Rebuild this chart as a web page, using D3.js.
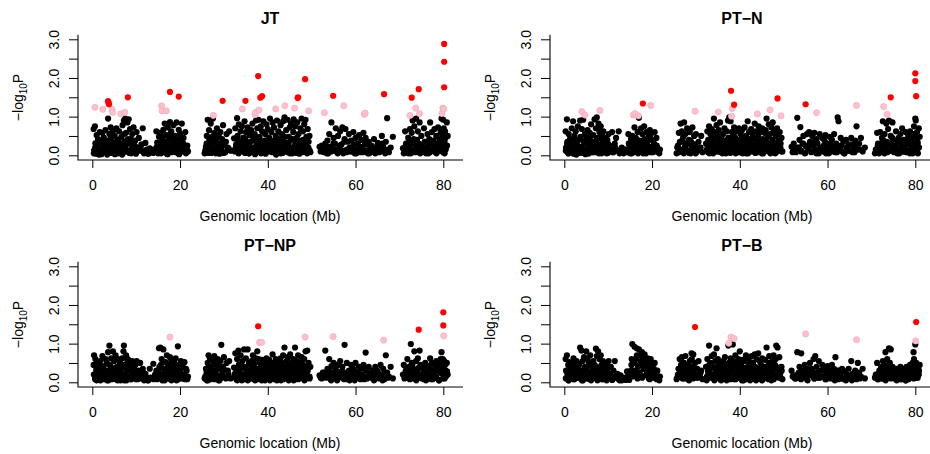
<!DOCTYPE html>
<html><head><meta charset="utf-8">
<script src="https://cdn.jsdelivr.net/npm/d3@7"></script>
<style>
body{margin:0;background:#fff}
svg{display:block}
text{font-family:"Liberation Sans",Arial,Helvetica,sans-serif}
</style>
</head><body>
<svg id="chart" width="930" height="454"></svg>
<script>
// shared marker positions (Mb), first marker set
const snpPos = [
0.3,0.4,0.6,0.7,0.9,1.0,1.2,1.3,1.5,1.7,
1.8,2.0,2.1,2.3,2.5,2.6,2.8,3.0,3.1,3.3,
3.4,3.6,3.7,3.9,4.0,4.2,4.3,4.5,4.7,4.8,
5.0,5.1,5.3,5.5,5.6,5.8,5.9,6.1,6.3,6.4,
6.6,6.8,6.9,7.1,7.2,7.4,7.5,7.7,7.8,8.0,
8.1,8.3,8.5,8.6,8.8,8.9,9.1,9.3,9.4,9.6,
9.8,9.9,10.1,10.3,10.6,10.9,11.2,11.5,11.8,12.1,
12.4,12.8,13.1,13.5,13.9,14.3,14.6,14.8,15.0,15.2,
15.3,15.5,15.7,15.8,16.0,16.2,16.3,16.5,16.7,16.8,
17.0,17.2,17.3,17.5,17.7,17.8,18.0,18.2,18.3,18.5,
18.7,18.8,19.0,19.2,19.3,19.5,19.7,19.8,20.0,20.2,
20.4,20.6,20.8,21.0,21.2,21.5,21.8,25.6,25.9,26.1,
26.3,26.5,26.6,26.8,27.0,27.1,27.3,27.5,27.6,27.8,
28.0,28.2,28.4,28.6,28.8,29.0,29.2,29.4,29.6,29.8,
30.0,30.3,30.6,30.9,31.2,31.5,32.3,32.5,32.6,32.8,
33.0,33.1,33.3,33.4,33.6,33.8,33.9,34.1,34.2,34.4,
34.6,34.7,34.9,35.0,35.2,35.4,35.5,35.7,35.8,36.0,
36.2,36.3,36.5,36.6,36.8,37.0,37.1,37.3,37.4,37.6,
37.8,37.9,38.1,38.2,38.4,38.6,38.7,38.9,39.0,39.2,
39.4,39.5,39.7,39.8,40.0,40.2,40.3,40.5,40.6,40.8,
41.0,41.1,41.3,41.4,41.6,41.8,41.9,42.1,42.2,42.4,
42.6,42.7,42.9,43.0,43.2,43.4,43.5,43.7,43.8,44.0,
44.2,44.3,44.5,44.6,44.8,45.0,45.1,45.3,45.4,45.6,
45.8,45.9,46.1,46.2,46.4,46.6,46.7,46.9,47.0,47.2,
47.4,47.5,47.7,47.8,48.0,48.2,48.3,48.5,48.6,48.8,
49.0,49.1,49.3,49.5,49.7,51.8,52.3,52.8,53.1,53.3,
53.6,53.8,54.0,54.3,54.5,54.8,55.0,55.3,55.5,55.8,
56.0,56.3,56.5,56.8,57.0,57.2,57.5,57.7,58.0,58.2,
58.5,58.8,59.0,59.3,59.5,59.8,60.0,60.3,60.5,60.8,
61.0,61.3,61.5,61.8,62.0,62.3,62.5,62.8,63.0,63.3,
63.6,63.9,64.2,64.5,64.8,65.1,65.4,65.7,66.0,66.3,
66.6,66.9,67.2,67.6,68.0,68.5,70.8,71.0,71.3,71.5,
71.8,72.0,72.2,72.4,72.6,72.8,73.0,73.2,73.4,73.6,
73.8,74.0,74.2,74.4,74.6,74.8,75.0,75.3,75.6,75.9,
76.2,76.4,76.6,76.8,77.0,77.2,77.4,77.6,77.8,78.0,
78.2,78.4,78.6,78.8,79.0,79.2,79.4,79.6,79.8,80.0,
79.7,79.9,80.1,80.2,80.3,80.4,80.5,80.6,80.8,81.0
];
// shared marker positions (Mb), second marker set
const snpPos2 = [
0.35,0.65,0.95,1.25,1.55,1.85,2.15,2.45,2.75,3.05,
3.35,3.65,3.95,4.25,4.55,4.85,5.15,5.45,5.75,6.05,
6.35,6.65,6.95,7.25,7.55,7.85,8.15,8.45,8.75,9.05,
9.35,9.65,9.95,10.4,11.0,11.6,12.6,13.3,14.0,14.7,
15.05,15.35,15.65,15.95,16.25,16.55,16.85,17.15,17.45,17.75,
18.05,18.35,18.65,18.95,19.25,19.55,19.85,20.15,20.45,20.75,
21.05,21.35,21.65,25.75,26.05,26.35,26.65,26.95,27.25,27.55,
27.85,28.15,28.45,28.75,29.05,29.35,29.65,29.95,30.45,31.05,
32.45,32.75,33.05,33.35,33.65,33.95,34.25,34.55,34.85,35.15,
35.45,35.75,36.05,36.35,36.65,36.95,37.25,37.55,37.85,38.15,
38.45,38.75,39.05,39.35,39.65,39.95,40.25,40.55,40.85,41.15,
41.45,41.75,42.05,42.35,42.65,42.95,43.25,43.55,43.85,44.15,
44.45,44.75,45.05,45.35,45.65,45.95,46.25,46.55,46.85,47.15,
47.45,47.75,48.05,48.35,48.65,48.95,49.25,49.55,52.05,52.55,
53.45,53.95,54.45,54.95,55.45,55.95,56.45,56.95,57.45,57.95,
58.65,59.15,59.65,60.15,60.65,61.15,61.65,62.15,62.65,63.15,
63.75,64.35,64.95,65.55,66.15,66.75,67.4,71.15,71.45,71.75,
72.05,72.35,72.65,72.95,73.25,73.55,73.85,74.15,74.45,74.75,
75.15,75.45,75.75,76.05,76.35,76.65,76.95,77.25,77.55,77.85,
78.15,78.45,78.75,79.05,79.35,79.65,79.95,80.25,80.55,80.85
];

// -log10 P per marker (first set), one array per trait
const jtLogP = [
.68,.12,.75,.31,.04,.52,.22,.41,.08,.6,
.15,.35,.03,.58,.27,.46,.09,.65,.19,.38,
.02,.95,.28,.55,.12,.72,.44,.06,.63,.33,
.18,.5,.07,.7,.25,.4,.05,.62,.3,.14,
.47,.02,.78,.21,.9,.36,.95,.58,.1,.85,
.3,.93,.12,.68,.42,.05,.55,.24,.72,.16,
.38,.08,.6,.2,.45,.12,.28,.7,.05,.32,
.15,.04,.18,.09,.06,.12,.62,.33,.05,.48,
.18,.58,.27,.07,.4,.66,.12,.82,.3,.52,
.04,.72,.22,.45,.86,.1,.62,.35,.15,.78,
.28,.5,.08,.85,.4,.19,.66,.03,.56,.3,
.82,.12,.45,.22,.6,.16,.1,.05,.22,.5,
.92,.13,.65,.3,.82,.06,.48,.95,.2,.58,
.35,.1,.7,.25,.52,.04,.6,.18,.42,.78,
.3,.08,.55,.2,.62,.12,.44,.15,.7,.28,
.96,.5,.06,.8,.35,.62,.12,.75,.25,.45,
.08,.88,.4,.6,.15,.72,.3,.05,.52,.22,
.65,.1,.82,.38,.2,.55,.03,.9,.42,.7,
.15,.92,.48,.28,.75,.06,.62,.35,.88,.18,
.55,.04,.8,.3,.68,.12,.45,.95,.22,.6,
.08,.85,.38,.72,.18,.5,.02,.9,.28,.62,
.42,.12,.78,.25,.55,.06,.88,.35,.98,.15,
.65,.3,.92,.08,.48,.72,.18,.82,.4,.05,
.6,.93,.22,.75,.12,.45,.85,.3,.55,.04,
.7,.2,.95,.38,.62,.1,.8,.28,.92,.48,
.15,.68,.35,.5,.08,.22,.25,.08,.3,.15,
.38,.05,.55,.2,.85,.12,.45,.3,.7,.08,
.5,.18,.62,.28,.72,.05,.42,.68,.15,.35,
.55,.1,.38,.22,.6,.05,.45,.15,.3,.52,
.08,.4,.2,.58,.12,.45,.28,.05,.35,.18,
.25,.1,.42,.05,.2,.32,.08,.15,.5,.22,
.12,.35,.96,.08,.2,.48,.18,.05,.62,.3,
.1,.45,.22,.68,.05,.58,.9,.3,.75,.15,
.95,.4,.62,.08,.85,.25,.5,.12,.7,.35,
.2,.55,.05,.42,.85,.3,.6,.12,.38,.68,
.08,.5,.25,.72,.15,.4,.6,.95,.3,.92,
.55,.12,.7,.35,.05,.62,.45,.2,.85,.5
];
const ptnLogP = [
.62,.2,.93,.35,.05,.55,.15,.42,.08,.7,
.28,.88,.04,.5,.18,.62,.32,.1,.75,.4,
.06,.9,.48,.22,.68,.12,.92,.35,.55,.03,
.45,.15,.65,.28,.05,.58,.38,.8,.1,.25,
.52,.08,.93,.3,.7,.98,.42,.15,.82,.6,
.22,.75,.05,.5,.35,.62,.12,.45,.28,.18,
.4,.06,.55,.25,.15,.6,.08,.3,.45,.12,
.62,.1,.2,.05,.15,.08,.55,.3,.05,.42,
.2,.5,.35,.08,.72,.15,.45,.25,.6,.05,
.97,.38,.12,.7,.28,.55,.05,.75,.42,.18,
.6,.3,.1,.5,.22,.65,.08,.4,.58,.15,
.3,.6,.12,.45,.2,.08,.15,.05,.25,.58,
.15,.82,.35,.62,.08,.48,.85,.22,.55,.3,
.7,.12,.4,.6,.05,.32,.72,.18,.5,.25,
.55,.1,.35,.2,.5,.08,.3,.15,.62,.4,
.75,.05,.55,.3,.68,.15,.45,.95,.22,.6,
.35,.78,.1,.5,.65,.25,.85,.08,.42,.3,
.55,.15,.7,.38,.05,.62,.25,.9,.45,.98,
.2,.88,.35,.6,.1,.5,.72,.28,.45,.15,
.62,.3,.08,.7,.4,.55,.18,.65,.05,.45,
.25,.72,.12,.5,.38,.88,.05,.6,.3,.42,
.68,.15,.55,.28,.45,.82,.1,.62,.35,.08,
.5,.75,.2,.6,.32,.05,.7,.42,.15,.58,
.3,.65,.95,.12,.48,.8,.22,.55,.05,.72,
.4,.85,.15,.62,.28,.5,.08,.7,.35,.55,
.18,.6,.3,.45,.1,.22,.3,.08,.97,.2,
.4,.73,.12,.3,.5,.05,.25,.55,.18,.6,
.35,.08,.5,.25,.58,.12,.42,.3,.05,.55,
.2,.45,.1,.38,.52,.15,.3,.05,.48,.25,
.4,.12,.55,.08,.3,.98,.88,.2,.45,.1,
.35,.05,.4,.18,.28,.12,.45,.08,.22,.38,
.75,.15,.3,.45,.1,.2,.05,.15,.58,.3,
.1,.6,.25,.45,.88,.15,.55,.35,.82,.08,
.68,.9,.3,.5,.12,.85,.4,.2,.62,.05,
.45,.15,.55,.3,.7,.1,.4,.25,.6,.08,
.35,.5,.12,.62,.25,.45,.05,.55,.3,.95,
.75,.2,.9,.45,.1,.6,.35,.05,.7,.48
];
const ptnpLogP = [
.45,.7,.15,.6,.3,.05,.52,.22,.4,.1,
.55,.2,.35,.68,.08,.42,.25,.6,.12,.5,
.3,.78,.05,.95,.45,.18,.62,.35,.8,.1,
.55,.25,.7,.08,.4,.6,.15,.3,.5,.05,
.35,.62,.12,.8,.95,.45,.22,.7,.05,.55,
.6,.15,.5,.3,.42,.08,.55,.25,.35,.12,
.45,.2,.55,.08,.3,.5,.15,.35,.05,.22,
.12,.05,.35,.1,.48,.2,.3,.08,.15,.88,
.4,.9,.2,.6,.12,.85,.35,.05,.52,.25,
.7,.15,.45,.3,.65,.08,.55,.2,.4,.12,
.5,.28,.62,.05,.35,.93,.18,.45,.3,.55,
.1,.4,.2,.52,.08,.3,.15,.1,.35,.05,
.5,.7,.2,.62,.08,.4,.3,.55,.12,.68,
.25,.45,.1,.6,.35,.05,.55,.97,.2,.4,
.65,.15,.5,.3,.55,.1,.38,.22,.75,.08,
.6,.25,.82,.45,.12,.7,.35,.05,.55,.2,
.85,.4,.15,.62,.3,.85,.08,.5,.25,.45,
.1,.55,.3,.7,.18,.48,.05,.62,.35,.8,
.25,.6,.12,.5,.38,.05,.58,.22,.45,.15,
.55,.3,.62,.1,.42,.2,.58,.05,.35,.5,
.15,.72,.28,.45,.08,.6,.35,.2,.55,.1,
.42,.25,.62,.05,.5,.3,.7,.18,.9,.4,
.12,.55,.3,.65,.08,.45,.72,.2,.5,.35,
.6,.05,.4,.9,.25,.55,.15,.7,.38,.1,
.5,.28,.65,.12,.45,.35,.6,.08,.8,.22,
.82,.3,.5,.15,.4,.18,.1,.25,.82,.12,
.35,.2,.6,.08,.42,.25,.5,.15,.3,.05,
.45,.18,.55,.28,.4,.1,.97,.22,.5,.08,
.3,.12,.45,.2,.35,.05,.5,.25,.15,.4,
.1,.35,.2,.45,.08,.77,.3,.15,.4,.22,
.12,.3,.05,.4,.18,.25,.1,.45,.2,.35,
.08,.7,.25,.15,.4,.1,.2,.45,.12,.3,
.6,.15,.4,.25,.99,.5,.1,.35,.8,.2,
.55,.3,.62,.12,.82,.45,.2,.38,.08,.5,
.25,.42,.1,.35,.62,.18,.5,.08,.3,.45,
.15,.55,.3,.48,.05,.35,.6,.78,.22,.5,
.4,.6,.25,.55,.1,.45,.3,.15,.5,.2
];
const ptbLogP = [
.6,.3,.7,.15,.45,.05,.52,.25,.38,.1,
.5,.2,.62,.08,.4,.28,.55,.12,.35,.48,
.18,.9,.3,.82,.05,.55,.22,.65,.4,.12,
.8,.35,.6,.1,.48,.25,.7,.05,.42,.2,
.55,.15,.45,.3,.87,.68,.1,.8,.38,.6,
.22,.7,.45,.08,.55,.3,.12,.42,.25,.5,
.35,.1,.55,.2,.4,.06,.3,.55,.12,.22,
.08,.18,.05,.12,.1,.28,.2,.06,.15,.3,
.45,.99,.3,.55,.92,.2,.6,.88,.1,.4,
.85,.25,.7,.5,.78,.15,.62,.35,.72,.45,
.55,.2,.62,.3,.4,.08,.6,.25,.45,.15,
.35,.5,.12,.25,.3,.1,.15,.08,.2,.35,
.6,.15,.45,.65,.25,.5,.1,.35,.68,.2,
.42,.08,.3,.55,.18,.75,.4,.72,.25,.5,
.12,.35,.55,.2,.3,.08,.4,.15,.6,.25,
.95,.3,.5,.12,.68,.4,.2,.72,.05,.55,
.35,.88,.15,.6,.25,.45,.08,.5,.3,.2,
.55,.12,.4,.65,.25,.05,.48,.3,.95,.18,
.4,.62,.15,.3,.98,.55,.08,.45,.7,.2,
.5,.12,.6,.35,.8,.22,.45,.05,.58,.3,
.15,.55,.35,.7,.08,.62,.25,.45,.12,.52,
.3,.68,.1,.5,.25,.72,.4,.05,.6,.2,
.75,.35,.55,.15,.48,.25,.62,.08,.4,.3,
.58,.2,.9,.35,.12,.5,.68,.25,.45,.05,
.55,.3,.7,.15,.45,.6,.95,.2,.9,.38,
.65,.25,.12,.4,.08,.3,.18,.1,.78,.22,
.4,.12,.75,.3,.15,.45,.25,.08,.35,.2,
.5,.18,.3,.6,.1,.68,.4,.25,.55,.12,
.3,.45,.15,.38,.08,.25,.42,.12,.3,.2,
.45,.1,.35,.65,.2,.3,.08,.25,.15,.35,
.1,.28,.05,.2,.35,.12,.55,.22,.15,.3,
.08,.5,.25,.15,.35,.1,.12,.2,.5,.08,
.3,.15,.4,.1,.55,.25,.45,.78,.2,.6,
.35,.88,.5,.85,.15,.4,.25,.1,.35,.2,
.3,.12,.4,.08,.25,.35,.15,.3,.05,.4,
.2,.35,.1,.45,.25,.3,.5,.78,.15,.98,
.6,.45,.3,.5,.12,.4,.25,.35,.2,.45
];

// -log10 P per marker (second set)
const jtLogP2 = [
.05,.2,.1,.3,.02,.15,.4,.08,.25,.12,
.35,.06,.18,.45,.1,.28,.03,.2,.38,.08,
.15,.3,.05,.55,.22,.12,.42,.06,.32,.18,
.1,.25,.04,.15,.2,.1,.05,.1,.15,.22,
.1,.3,.05,.45,.2,.12,.35,.03,.25,.55,
.08,.2,.4,.12,.3,.05,.22,.45,.1,.3,
.15,.05,.25,.12,.3,.06,.4,.18,.1,.35,
.2,.05,.45,.15,.3,.1,.25,.06,.35,.18,
.1,.25,.4,.05,.2,.32,.12,.45,.06,.28,
.18,.05,.35,.12,.5,.2,.08,.3,.15,.42,
.05,.25,.12,.38,.08,.2,.45,.1,.3,.15,
.28,.06,.4,.15,.22,.05,.35,.12,.48,.2,
.1,.32,.05,.2,.42,.12,.28,.06,.36,.15,
.25,.08,.4,.15,.3,.05,.2,.12,.1,.18,
.05,.22,.1,.3,.15,.05,.25,.12,.35,.08,
.2,.1,.28,.05,.15,.22,.08,.3,.12,.05,
.18,.08,.25,.1,.3,.05,.15,.2,.1,.3,
.05,.2,.35,.12,.42,.08,.25,.15,.3,.05,
.22,.1,.35,.05,.18,.28,.08,.15,.3,.12,
.2,.05,.3,.12,.42,.18,.08,.35,.15,.25
];
const ptnLogP2 = [
.12,.3,.05,.22,.4,.08,.18,.35,.02,.25,
.1,.42,.2,.06,.3,.15,.38,.05,.22,.5,
.08,.35,.2,.12,.45,.05,.28,.15,.4,.1,
.2,.05,.3,.12,.08,.2,.05,.1,.15,.3,
.22,.05,.35,.12,.28,.4,.08,.2,.32,.1,
.15,.38,.05,.25,.12,.45,.2,.08,.3,.1,
.25,.12,.05,.2,.08,.35,.15,.4,.05,.25,
.12,.3,.06,.38,.2,.1,.28,.05,.15,.2,
.3,.08,.2,.42,.12,.05,.35,.18,.25,.1,
.4,.15,.05,.28,.2,.35,.1,.45,.06,.22,
.12,.3,.05,.4,.18,.25,.08,.35,.15,.2,
.05,.32,.15,.22,.42,.1,.2,.06,.3,.12,
.35,.1,.25,.05,.18,.4,.12,.3,.08,.22,
.15,.3,.05,.25,.12,.38,.2,.1,.08,.15,
.2,.1,.3,.06,.18,.25,.1,.35,.05,.15,
.12,.25,.05,.18,.3,.1,.22,.08,.15,.25,
.05,.2,.12,.28,.08,.3,.15,.1,.25,.05,
.3,.12,.4,.05,.22,.35,.1,.28,.15,.45,
.08,.25,.12,.35,.05,.2,.3,.1,.18,.4,
.1,.28,.05,.38,.15,.22,.5,.08,.3,.2
];
const ptnpLogP2 = [
.2,.08,.35,.12,.25,.05,.4,.18,.3,.1,
.05,.28,.15,.4,.08,.22,.35,.12,.05,.3,
.25,.1,.45,.05,.2,.32,.12,.38,.08,.22,
.15,.3,.08,.2,.1,.25,.05,.12,.08,.18,
.3,.12,.45,.05,.22,.35,.1,.28,.15,.4,
.05,.25,.12,.38,.2,.08,.3,.15,.42,.1,
.2,.35,.08,.15,.25,.05,.4,.12,.3,.2,
.08,.3,.18,.05,.42,.12,.25,.35,.1,.2,
.15,.35,.05,.28,.45,.12,.2,.08,.38,.25,
.05,.3,.18,.42,.1,.25,.35,.08,.2,.15,
.38,.12,.25,.05,.45,.18,.3,.1,.22,.4,
.1,.28,.05,.35,.2,.12,.42,.08,.3,.18,
.25,.05,.38,.15,.3,.1,.45,.2,.08,.32,
.12,.35,.2,.05,.28,.4,.15,.1,.12,.25,
.15,.3,.05,.22,.35,.1,.2,.28,.08,.25,
.05,.2,.3,.12,.25,.08,.18,.35,.1,.22,
.2,.08,.3,.15,.05,.25,.12,.1,.3,.15,
.35,.08,.25,.45,.12,.3,.05,.2,.38,.15,
.1,.3,.2,.05,.25,.15,.35,.08,.2,.12,
.3,.12,.4,.05,.25,.35,.1,.45,.18,.28
];
const ptbLogP2 = [
.1,.25,.05,.35,.15,.42,.08,.3,.2,.12,
.45,.15,.3,.05,.25,.38,.1,.2,.5,.08,
.3,.12,.42,.2,.05,.35,.15,.25,.08,.3,
.2,.05,.12,.22,.08,.15,.05,.1,.06,.12,
.25,.6,.15,.5,.3,.7,.2,.45,.55,.12,
.35,.6,.2,.5,.1,.4,.25,.3,.12,.2,
.08,.15,.05,.12,.35,.2,.4,.1,.5,.25,
.15,.45,.05,.3,.6,.1,.35,.2,.12,.25,
.05,.3,.45,.15,.2,.38,.08,.25,.4,.12,
.22,.05,.35,.15,.42,.1,.28,.5,.08,.3,
.15,.4,.08,.25,.35,.12,.45,.2,.05,.3,
.38,.1,.22,.05,.3,.45,.15,.28,.08,.2,
.12,.35,.05,.25,.4,.18,.3,.08,.45,.15,
.3,.08,.42,.2,.35,.12,.25,.3,.15,.1,
.25,.08,.3,.15,.05,.22,.35,.1,.2,.12,
.15,.3,.08,.2,.1,.25,.05,.18,.3,.1,
.08,.2,.12,.05,.25,.15,.1,.2,.08,.15,
.25,.1,.35,.15,.05,.3,.2,.45,.1,.28,
.12,.25,.05,.15,.3,.08,.2,.12,.25,.05,
.2,.08,.3,.15,.35,.1,.25,.4,.12,.3
];

// markers with -log10 P >= 1 (positions in Mb, values)
const jtHitPos  = [0.6,2.4,3.6,3.7,3.8,4.5,4.6,6.5,7.4,8.1,15.8,15.9,16.9,17.7,19.7,27.6,29.7,34.2,34.9,37.1,37.2,37.8,38.0,38.3,38.7,41.8,43.9,46.1,46.8,46.9,48.5,49.3,52.9,54.9,57.3,62.0,62.2,66.5,72.4,72.8,73.7,74.4,74.6,79.7,79.9,80.1,80.2,80.2,80.2];
const jtHitLogP = [1.24,1.19,1.40,1.36,1.32,1.19,1.11,1.07,1.11,1.50,1.28,1.15,1.15,1.64,1.52,1.03,1.41,1.20,1.41,1.05,1.11,2.05,1.17,1.49,1.53,1.20,1.28,1.22,1.48,1.50,1.97,1.15,1.10,1.54,1.28,1.06,1.09,1.58,1.03,1.49,1.22,1.71,1.08,1.08,1.22,1.20,1.76,2.42,2.88];
const ptnHitPos  = [4.0,4.7,8.1,15.7,16.1,16.9,17.9,19.7,29.8,35.1,38.0,38.1,38.3,38.7,44.0,46.9,48.6,49.4,55.0,57.5,66.6,72.8,73.6,74.4,80.0,80.0,80.2];
const ptnHitLogP = [1.13,1.04,1.16,1.04,1.08,1.02,1.34,1.29,1.14,1.12,1.67,1.01,1.21,1.31,1.07,1.17,1.47,1.02,1.32,1.10,1.29,1.26,1.06,1.50,2.12,1.92,1.53];
const ptnpHitPos  = [17.7,37.8,38.1,38.6,48.5,54.9,66.4,74.4,80.0,80.0,80.1];
const ptnpHitLogP = [1.17,1.45,1.03,1.03,1.17,1.18,1.09,1.36,1.81,1.47,1.20];
const ptbHitPos  = [29.8,37.5,38.0,38.7,55.0,66.6,80.2,80.1];
const ptbHitLogP = [1.43,1.01,1.17,1.13,1.25,1.10,1.56,1.07];

const titles = ["JT","PT\u2212N","PT\u2212NP","PT\u2212B"];
const xTicks = [0,20,40,60,80];
const yTicks = [0,0.5,1,1.5,2,2.5,3];
const yTickLabels = [0,1,2,3];
const pinkCut = 1;                      // P < 0.10
const redCut = -Math.log10(0.05);       // P < 0.05

const panels = [
  {title:titles[0], bg:jtLogP,   bg2:jtLogP2,   hitPos:jtHitPos,   hitLogP:jtHitLogP,   ox:0,   oy:0},
  {title:titles[1], bg:ptnLogP,  bg2:ptnLogP2,  hitPos:ptnHitPos,  hitLogP:ptnHitLogP,  ox:472, oy:0},
  {title:titles[2], bg:ptnpLogP, bg2:ptnpLogP2, hitPos:ptnpHitPos, hitLogP:ptnpHitLogP, ox:0,   oy:227},
  {title:titles[3], bg:ptbLogP,  bg2:ptbLogP2,  hitPos:ptbHitPos,  hitLogP:ptbHitLogP,  ox:472, oy:227}
];

const svg = d3.select("#chart");
svg.append("rect").attr("width",930).attr("height",454).attr("fill","#fff");

const x = d3.scaleLinear().domain([0,80]).range([92.3,443.3]);
const y = d3.scaleLinear().domain([0,3]).range([155.3,39.3]);
const box = {left:78, right:463, top:34.7, bottom:160};
const FONT = '"Liberation Sans",Arial,Helvetica,sans-serif';
const colorOf = v => v >= redCut ? "#FF0000" : v >= pinkCut ? "#FFC0CB" : "#000000";
const edgeOf = v => v >= redCut ? "none" : v >= pinkCut ? "#EDA8B6" : "none";
const rankOf = v => v >= redCut ? 2 : v >= pinkCut ? 1 : 0;

panels.forEach(p => {
  const g = svg.append("g").attr("transform",`translate(${p.ox},${p.oy})`);
  const pts = [];
  const n1 = Math.min(snpPos.length, p.bg.length);
  for (let i=0;i<n1;i++) pts.push([snpPos[i], p.bg[i]]);
  const n2 = Math.min(snpPos2.length, p.bg2.length);
  for (let i=0;i<n2;i++) pts.push([snpPos2[i], p.bg2[i]]);
  p.hitPos.forEach((d,i)=>pts.push([d, p.hitLogP[i]]));
  pts.sort((a,b)=>rankOf(a[1])-rankOf(b[1]));

  g.append("g").selectAll("circle").data(pts).join("circle")
    .attr("cx",d=>x(d[0])).attr("cy",d=>y(d[1])).attr("r",3.1)
    .attr("fill",d=>colorOf(d[1]))
    .attr("stroke",d=>edgeOf(d[1])).attr("stroke-width",0.6);

  // L-shaped frame
  g.append("path").attr("d",`M${box.left},${box.top}V${box.bottom}H${box.right}`)
    .attr("fill","none").attr("stroke","#000").attr("stroke-width",1.1);

  // y axis
  const ya = g.append("g").attr("transform",`translate(${box.left},0)`)
    .call(d3.axisLeft(y).tickValues(yTicks).tickSize(9)
      .tickFormat(d => yTickLabels.includes(d) ? d3.format(".1f")(d) : ""));
  ya.select(".domain").remove();
  ya.selectAll(".tick line").attr("stroke","#000").attr("stroke-width",1);
  ya.selectAll(".tick text").attr("x",null).attr("dy",null)
    .attr("transform","translate(-19.5,0) rotate(-90)")
    .attr("text-anchor","middle").attr("font-size",14).attr("font-family",FONT).attr("fill","#000");

  // x axis
  const xa = g.append("g").attr("transform",`translate(0,${box.bottom})`)
    .call(d3.axisBottom(x).tickValues(xTicks).tickSize(8).tickFormat(d3.format("d")));
  xa.select(".domain").remove();
  xa.selectAll(".tick line").attr("stroke","#000").attr("stroke-width",1);
  xa.selectAll(".tick text").attr("dy",null).attr("y",29.5)
    .attr("font-size",14).attr("font-family",FONT).attr("fill","#000");

  // title
  g.append("text").attr("x",270).attr("y",24).attr("text-anchor","middle")
    .attr("font-size",16).attr("font-weight","bold").text(p.title);

  // x label
  g.append("text").attr("x",270).attr("y",221).attr("text-anchor","middle")
    .attr("font-size",14).text("Genomic location (Mb)");

  // y label
  const yl = g.append("text").attr("transform","translate(23,97.5) rotate(-90)")
    .attr("text-anchor","middle").attr("font-size",14);
  yl.append("tspan").text("\u2212log");
  yl.append("tspan").attr("font-size",10).attr("dy",3.5).text("10");
  yl.append("tspan").attr("dy",-3.5).text("P");
});
</script>
</body></html>
